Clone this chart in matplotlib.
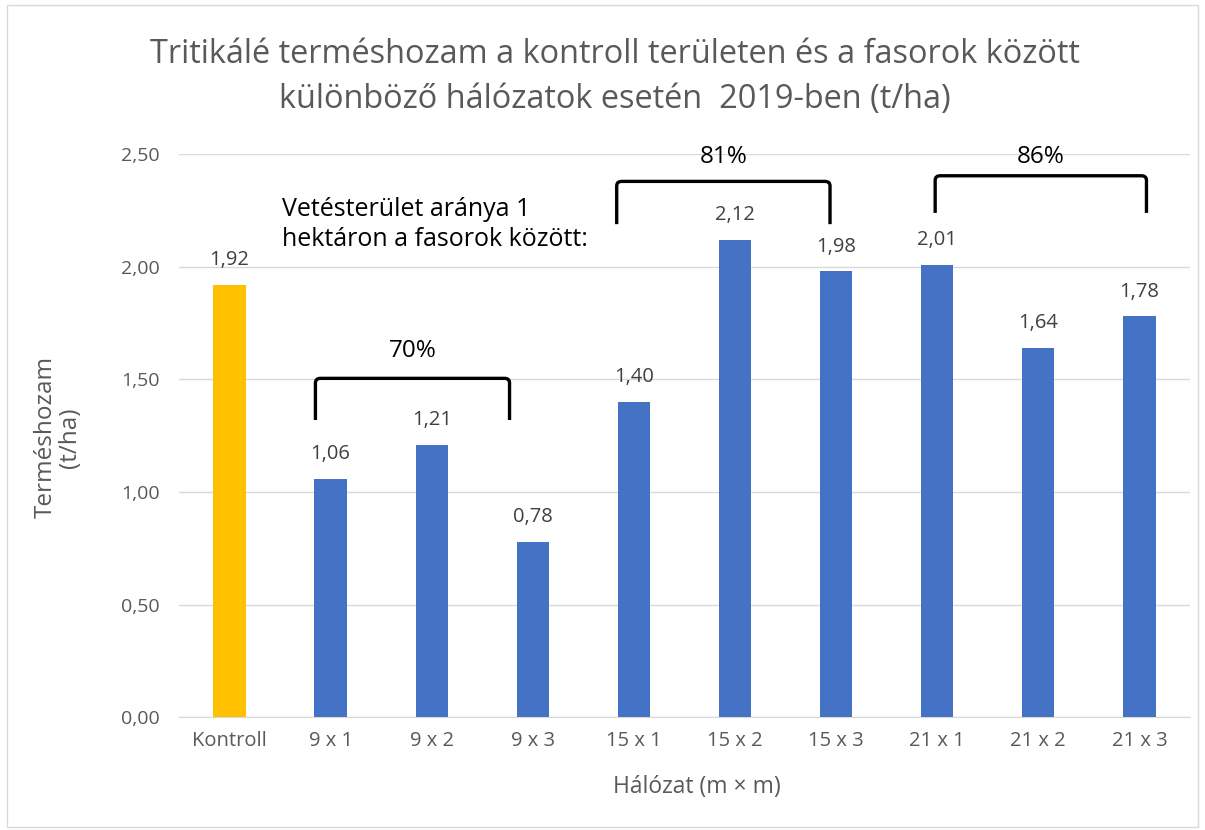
import matplotlib.pyplot as plt
from matplotlib.path import Path
from matplotlib.patches import PathPatch, Rectangle

plt.rcParams['font.family'] = ['Open Sans', 'DejaVu Sans']

categories = ["Kontroll", "9 x 1", "9 x 2", "9 x 3", "15 x 1", "15 x 2", "15 x 3", "21 x 1", "21 x 2", "21 x 3"]
values = [1.92, 1.06, 1.21, 0.78, 1.40, 2.12, 1.98, 2.01, 1.64, 1.78]
value_labels = ["1,92", "1,06", "1,21", "0,78", "1,40", "2,12", "1,98", "2,01", "1,64", "1,78"]
y_ticks = [0, 0.5, 1.0, 1.5, 2.0, 2.5]
y_tick_labels = ["0,00", "0,50", "1,00", "1,50", "2,00", "2,50"]

# group brackets: (label, x left, x right, top, bottom, label y)
groups = [("70%", 0.85, 2.77, 1.505, 1.32, 1.625),
          ("81%", 3.83, 5.94, 2.38, 2.19, 2.487),
          ("86%", 6.98, 9.07, 2.405, 2.24, 2.487)]

grey = "#595959"
colors = ["#FFC000"] + ["#4472C4"] * (len(categories) - 1)

fig = plt.figure(figsize=(12.05, 8.3), dpi=100)
ax = fig.add_axes([0.1485, 0.136, 0.839, 0.678])

x = range(len(categories))
ax.bar(x, values, width=0.32, color=colors, zorder=3)
for i, (v, lab) in enumerate(zip(values, value_labels)):
    ax.text(i, v + 0.11, lab, ha="center", va="center", fontsize=14.5, color="#404040")

ax.set_xlim(-0.5, len(categories) - 0.5)
ax.set_ylim(0, 2.5)
ax.set_yticks(y_ticks)
ax.set_yticklabels(y_tick_labels, fontsize=14, color=grey)
ax.set_xticks(list(x))
ax.set_xticklabels(categories, fontsize=14.5, color=grey)
ax.tick_params(axis="y", length=0, pad=14)
ax.tick_params(axis="x", length=0, pad=10)
ax.yaxis.grid(True, color="#d9d9d9", linewidth=1, zorder=0)
for s in ["top", "right", "left"]:
    ax.spines[s].set_visible(False)
ax.spines["bottom"].set_color("#d9d9d9")

fig.text(0.578, 0.052, "Hálózat (m × m)", ha="center", va="center", fontsize=16.5, color=grey)
fig.text(0.048, 0.473, "Terméshozam\n(t/ha)", ha="center", va="center", rotation=90,
         multialignment="center", fontsize=17.5, color=grey, linespacing=1.0)

# brackets with slightly rounded corners
for label, x0, x1, top, bot, ly in groups:
    r = 0.05
    rh = 0.02
    verts = [(x0, bot), (x0, top - rh), (x0, top), (x0 + r, top),
             (x1 - r, top), (x1, top), (x1, top - rh), (x1, bot)]
    codes = [Path.MOVETO, Path.LINETO, Path.CURVE3, Path.CURVE3,
             Path.LINETO, Path.CURVE3, Path.CURVE3, Path.LINETO]
    ax.add_patch(PathPatch(Path(verts, codes), fill=False, lw=2.4, color="black", zorder=4, clip_on=False))
    ax.text((x0 + x1) / 2, ly, label, ha="center", va="center", fontsize=17.5, color="black")

ax.text(0.52, 2.187, "Vetésterület aránya 1\nhektáron a fasorok között:", ha="left", va="center",
        fontsize=18, color="black", linespacing=1.25)

fig.text(0.51, 0.934, "Tritikálé terméshozam a kontroll területen és a fasorok között", ha="center",
         va="center", fontsize=23.4, color=grey)
fig.text(0.51, 0.88, "különböző hálózatok esetén  2019-ben (t/ha)", ha="center",
         va="center", fontsize=23.4, color=grey)

fig.patches.append(Rectangle((0.006, 0.004), 0.988, 0.99, transform=fig.transFigure,
                             fill=False, edgecolor="#d9d9d9", lw=1))

fig.savefig("out.png", dpi=100, facecolor="white")
